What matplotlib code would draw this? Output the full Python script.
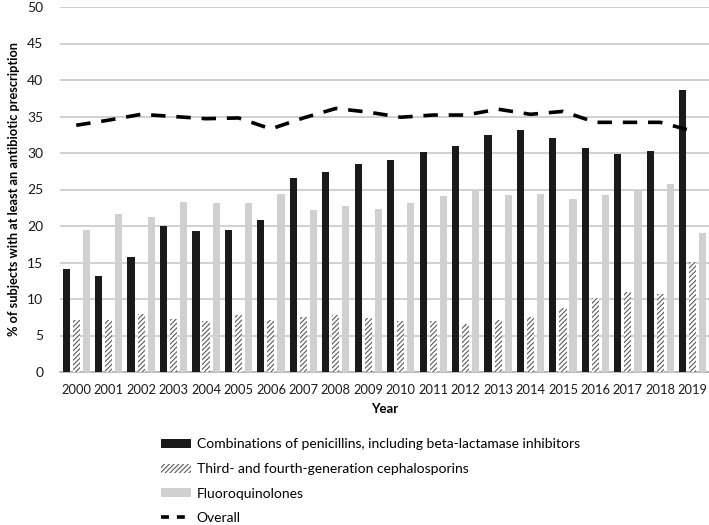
import matplotlib
matplotlib.use("Agg")
import matplotlib.pyplot as plt
import numpy as np
from matplotlib.lines import Line2D
from matplotlib.patches import Patch

plt.rcParams['font.family'] = ['Lato', 'DejaVu Sans']
plt.rcParams['hatch.linewidth'] = 0.8

years = [str(y) for y in range(2000, 2020)]
penicillins = [14.1, 13.2, 15.7, 20.0, 19.3, 19.4, 20.8, 26.6, 27.4, 28.5,
               29.1, 30.2, 30.9, 32.4, 33.1, 32.1, 30.7, 29.8, 30.3, 38.6]
cephalosporins = [7.1, 7.1, 8.0, 7.3, 7.0, 7.8, 7.1, 7.6, 7.8, 7.4,
                  7.0, 7.0, 6.6, 7.1, 7.6, 8.7, 10.1, 10.9, 10.7, 15.1]
fluoroquinolones = [19.4, 21.6, 21.3, 23.3, 23.1, 23.2, 24.4, 22.2, 22.7, 22.3,
                    23.2, 24.1, 24.9, 24.3, 24.4, 23.7, 24.3, 24.9, 25.7, 19.0]
overall = [33.8, 34.5, 35.3, 35.0, 34.7, 34.8, 33.3, 34.8, 36.1, 35.6,
           34.9, 35.2, 35.2, 36.0, 35.3, 35.7, 34.2, 34.2, 34.2, 33.0]

labels = ["Combinations of penicillins, including beta-lactamase inhibitors",
          "Third- and fourth-generation cephalosporins",
          "Fluoroquinolones",
          "Overall"]

fig = plt.figure(figsize=(7.09, 5.25), dpi=100)
ax = fig.add_axes([60/709, 1-372/525, 649/709, 365/525])

x = np.arange(len(years))
w = 0.22
off = 0.31
ax.bar(x - off, penicillins, w, color='#1a1a1a', zorder=3)
ax.bar(x, cephalosporins, w, color='white', edgecolor='#5a5a5a', hatch='///////', linewidth=0, zorder=3)
ax.bar(x + off, fluoroquinolones, w, color='#d0d0d0', zorder=3)
ax.plot(x, overall, color='black', linestyle=(0, (4, 3)), linewidth=2.6, zorder=4)

ax.set_xlim(-0.5, len(years) - 0.5)
ax.set_ylim(0, 50)
ax.set_yticks(range(0, 51, 5))
ax.yaxis.grid(True, color='#c8c8c8', linewidth=1.2, zorder=0)
ax.set_axisbelow(True)
ax.set_xticks(x)
ax.set_xticklabels(years)
for s in ['top', 'right', 'left']:
    ax.spines[s].set_visible(False)
ax.spines['bottom'].set_color('#b0b0b0')
ax.spines['bottom'].set_linewidth(1.2)
ax.tick_params(axis='both', length=0, colors='#1a1a1a')
ax.tick_params(axis='x', pad=9, labelsize=9.3)
ax.tick_params(axis='y', pad=12, labelsize=10)
ax.set_xlabel('Year', fontsize=9.5, fontweight='bold', labelpad=5)
ax.set_ylabel('% of subjects with at least an antibiotic prescription', fontsize=9.2,
              fontweight='bold')
ax.yaxis.set_label_coords(-0.062, 0.5)

handles = [Patch(facecolor='#1a1a1a'),
           Patch(facecolor='white', edgecolor='#5a5a5a', hatch='///////', linewidth=0),
           Patch(facecolor='#d0d0d0'),
           Line2D([0], [0], color='black', linestyle=(0, (2.2, 2.2)), linewidth=2.6)]
fig.legend(handles, labels, loc='upper left', bbox_to_anchor=(148/709, 1-426/525),
           frameon=False, fontsize=10, handlelength=2.2, handleheight=0.6,
           labelspacing=0.9, handletextpad=0.4)

fig.savefig('out.png', dpi=100)
